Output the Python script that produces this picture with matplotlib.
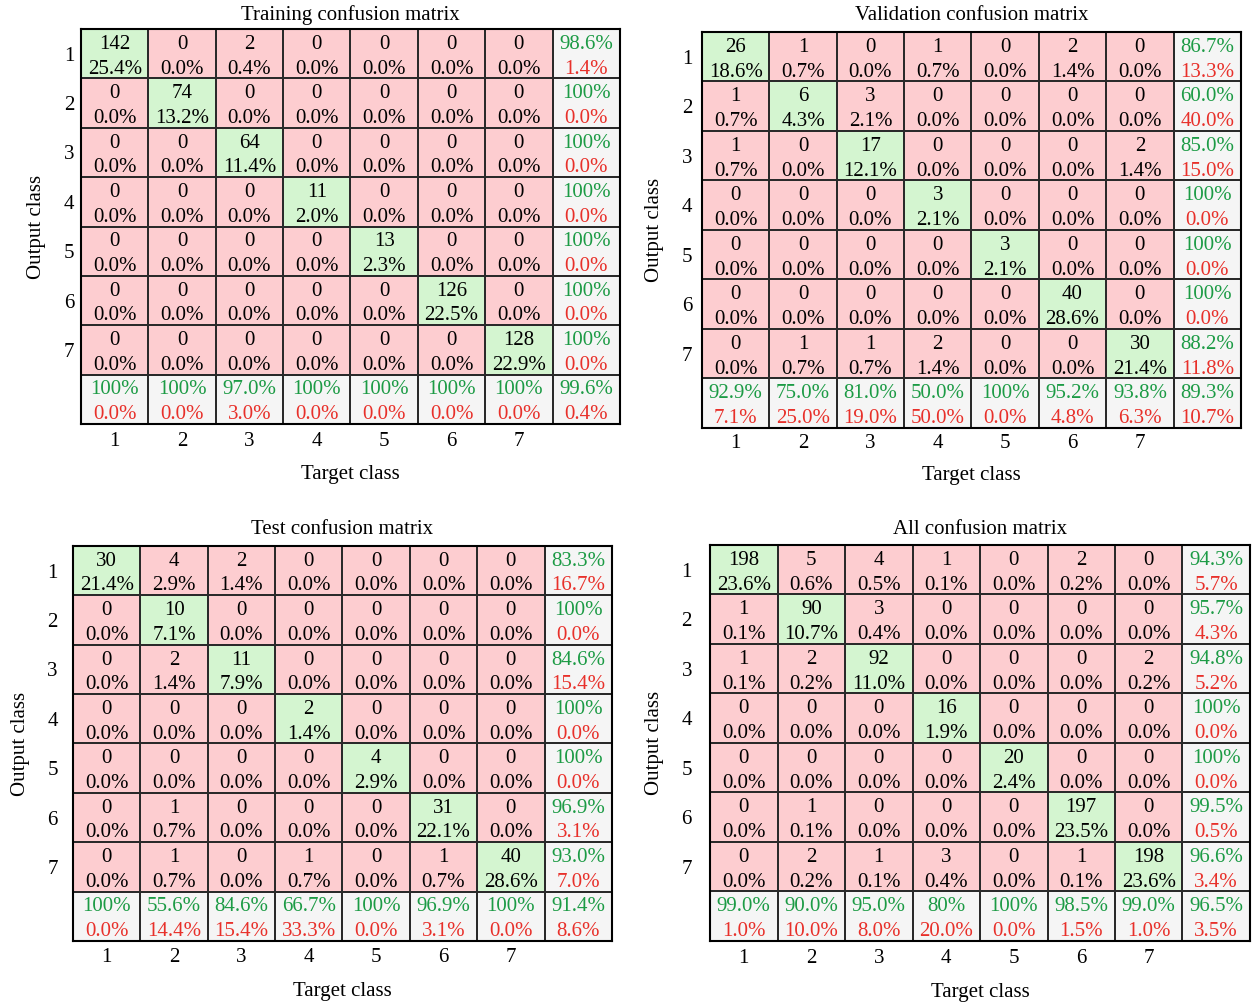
import numpy as np
import matplotlib.pyplot as plt
from matplotlib.colors import ListedColormap

plt.rcParams['font.family'] = ['Liberation Serif', 'DejaVu Serif']
plt.rcParams['font.size'] = 15

clases = ['1', '2', '3', '4', '5', '6', '7']

# Entrenamiento
ent_conteos = np.array([
    [142, 0, 2, 0, 0, 0, 0],
    [0, 74, 0, 0, 0, 0, 0],
    [0, 0, 64, 0, 0, 0, 0],
    [0, 0, 0, 11, 0, 0, 0],
    [0, 0, 0, 0, 13, 0, 0],
    [0, 0, 0, 0, 0, 126, 0],
    [0, 0, 0, 0, 0, 0, 128],
])
ent_filas_ok = ['98.6%', '100%', '100%', '100%', '100%', '100%', '100%']
ent_filas_err = ['1.4%', '0.0%', '0.0%', '0.0%', '0.0%', '0.0%', '0.0%']
ent_cols_ok = ['100%', '100%', '97.0%', '100%', '100%', '100%', '100%']
ent_cols_err = ['0.0%', '0.0%', '3.0%', '0.0%', '0.0%', '0.0%', '0.0%']
ent_total = ['99.6%', '0.4%']

# Validacion
val_conteos = np.array([
    [26, 1, 0, 1, 0, 2, 0],
    [1, 6, 3, 0, 0, 0, 0],
    [1, 0, 17, 0, 0, 0, 2],
    [0, 0, 0, 3, 0, 0, 0],
    [0, 0, 0, 0, 3, 0, 0],
    [0, 0, 0, 0, 0, 40, 0],
    [0, 1, 1, 2, 0, 0, 30],
])
val_filas_ok = ['86.7%', '60.0%', '85.0%', '100%', '100%', '100%', '88.2%']
val_filas_err = ['13.3%', '40.0%', '15.0%', '0.0%', '0.0%', '0.0%', '11.8%']
val_cols_ok = ['92.9%', '75.0%', '81.0%', '50.0%', '100%', '95.2%', '93.8%']
val_cols_err = ['7.1%', '25.0%', '19.0%', '50.0%', '0.0%', '4.8%', '6.3%']
val_total = ['89.3%', '10.7%']

# Prueba
pru_conteos = np.array([
    [30, 4, 2, 0, 0, 0, 0],
    [0, 10, 0, 0, 0, 0, 0],
    [0, 2, 11, 0, 0, 0, 0],
    [0, 0, 0, 2, 0, 0, 0],
    [0, 0, 0, 0, 4, 0, 0],
    [0, 1, 0, 0, 0, 31, 0],
    [0, 1, 0, 1, 0, 1, 40],
])
pru_filas_ok = ['83.3%', '100%', '84.6%', '100%', '100%', '96.9%', '93.0%']
pru_filas_err = ['16.7%', '0.0%', '15.4%', '0.0%', '0.0%', '3.1%', '7.0%']
pru_cols_ok = ['100%', '55.6%', '84.6%', '66.7%', '100%', '96.9%', '100%']
pru_cols_err = ['0.0%', '14.4%', '15.4%', '33.3%', '0.0%', '3.1%', '0.0%']
pru_total = ['91.4%', '8.6%']

# Todos
tod_conteos = np.array([
    [198, 5, 4, 1, 0, 2, 0],
    [1, 90, 3, 0, 0, 0, 0],
    [1, 2, 92, 0, 0, 0, 2],
    [0, 0, 0, 16, 0, 0, 0],
    [0, 0, 0, 0, 20, 0, 0],
    [0, 1, 0, 0, 0, 197, 0],
    [0, 2, 1, 3, 0, 1, 198],
])
tod_filas_ok = ['94.3%', '95.7%', '94.8%', '100%', '100%', '99.5%', '96.6%']
tod_filas_err = ['5.7%', '4.3%', '5.2%', '0.0%', '0.0%', '0.5%', '3.4%']
tod_cols_ok = ['99.0%', '90.0%', '95.0%', '80%', '100%', '98.5%', '99.0%']
tod_cols_err = ['1.0%', '10.0%', '8.0%', '20.0%', '0.0%', '1.5%', '1.0%']
tod_total = ['96.5%', '3.5%']

VERDE = '#d4f5d0'
ROJO = '#fdcdd0'
GRIS = '#f5f5f5'
TXT_VERDE = '#1c9b45'
TXT_ROJO = '#e8302a'

cmap = ListedColormap([VERDE, ROJO, GRIS])


def dibujar_matriz(ax, titulo, conteos, filas_ok, filas_err, cols_ok, cols_err,
                   total, pad_y, pad_x, pad_tit, pad_xlab):
    n = len(clases)
    # 0 = diagonal, 1 = fuera de diagonal, 2 = resumen
    tipo = np.ones((n + 1, n + 1))
    np.fill_diagonal(tipo, 0)
    tipo[n, :] = 2
    tipo[:, n] = 2
    ax.pcolormesh(np.arange(n + 2), np.arange(n + 2), tipo, cmap=cmap,
                  vmin=0, vmax=2, edgecolors='#2a2a2a', linewidth=1.2)
    ax.set_xlim(0, n + 1)
    ax.set_ylim(n + 1, 0)

    y1, y2 = 0.31, 0.81
    total_n = conteos.sum()
    for i in range(n):
        for j in range(n):
            ax.text(j + 0.5, i + y1, str(conteos[i, j]), ha='center', va='center')
            ax.text(j + 0.5, i + y2, '{:.1f}%'.format(100 * conteos[i, j] / total_n),
                    ha='center', va='center')
        ax.text(n + 0.5, i + y1, filas_ok[i], ha='center', va='center', color=TXT_VERDE)
        ax.text(n + 0.5, i + y2, filas_err[i], ha='center', va='center', color=TXT_ROJO)
    for j in range(n):
        ax.text(j + 0.5, n + y1, cols_ok[j], ha='center', va='center', color=TXT_VERDE)
        ax.text(j + 0.5, n + y2, cols_err[j], ha='center', va='center', color=TXT_ROJO)
    ax.text(n + 0.5, n + y1, total[0], ha='center', va='center', color=TXT_VERDE)
    ax.text(n + 0.5, n + y2, total[1], ha='center', va='center', color=TXT_ROJO)

    ax.set_xticks(np.arange(n) + 0.5, clases)
    ax.set_yticks(np.arange(n) + 0.5, clases)
    ax.tick_params(axis='x', length=0, pad=pad_x)
    ax.tick_params(axis='y', length=0, pad=pad_y)
    for s in ax.spines.values():
        s.set_linewidth(1.5)
        s.set_color('black')
    ax.set_title(titulo, fontsize=15, pad=pad_tit)
    ax.set_xlabel('Target class', labelpad=pad_xlab)
    ax.set_ylabel('Output class', labelpad=12.5)


fig = plt.figure(figsize=(12.52, 10.02), dpi=100)

ax1 = fig.add_axes([0.0647, 0.5768, 0.4305, 0.3942])
ax2 = fig.add_axes([0.5607, 0.5729, 0.4305, 0.3952])
ax3 = fig.add_axes([0.0583, 0.0609, 0.4305, 0.3942])
ax4 = fig.add_axes([0.5671, 0.0609, 0.4313, 0.3952])

dibujar_matriz(ax1, 'Training confusion matrix', ent_conteos, ent_filas_ok,
               ent_filas_err, ent_cols_ok, ent_cols_err, ent_total, 5, 6, 6.5, 10)
dibujar_matriz(ax2, 'Validation confusion matrix', val_conteos, val_filas_ok,
               val_filas_err, val_cols_ok, val_cols_err, val_total, 7, 4, 8.5, 10)
dibujar_matriz(ax3, 'Test confusion matrix', pru_conteos, pru_filas_ok,
               pru_filas_err, pru_cols_ok, pru_cols_err, pru_total, 11, 5, 8.5, 10.5)
dibujar_matriz(ax4, 'All confusion matrix', tod_conteos, tod_filas_ok,
               tod_filas_err, tod_cols_ok, tod_cols_err, tod_total, 13, 5.5, 8, 11)

fig.savefig('out.png', dpi=100)
